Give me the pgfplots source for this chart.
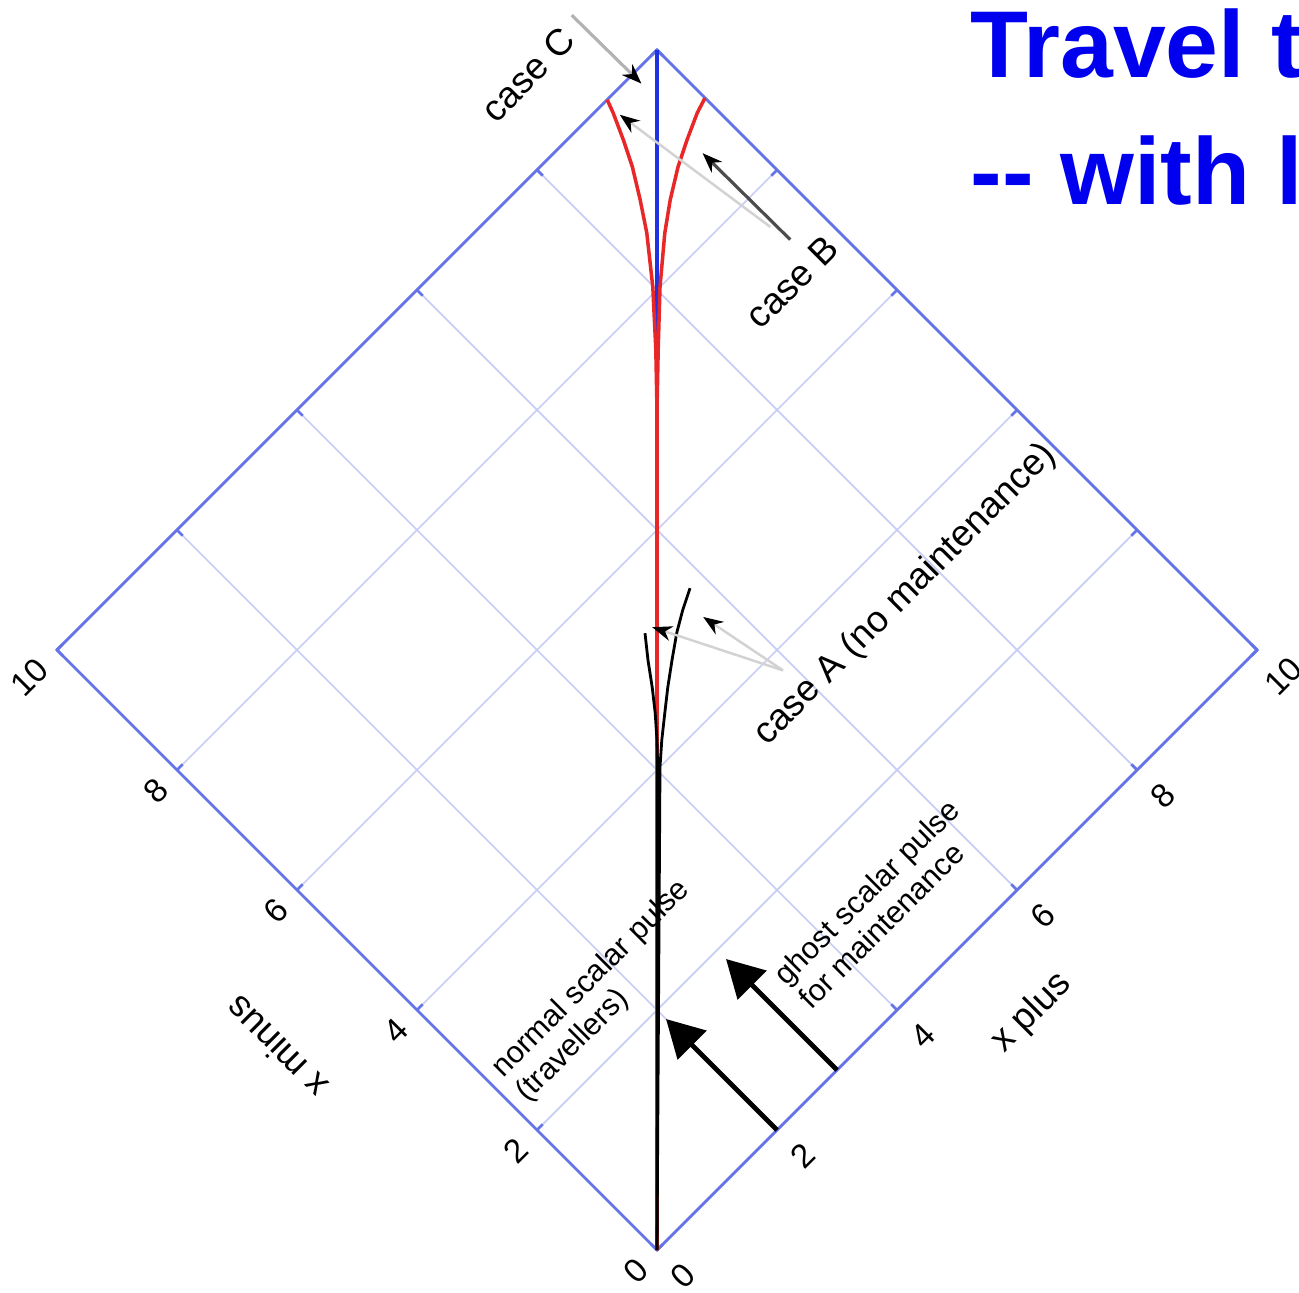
\documentclass[border=0pt]{standalone}
\usepackage{pgfplots}
\pgfplotsset{compat=1.18}
\usepackage{fontspec}
\setmainfont{Liberation Sans}
\usetikzlibrary{arrows.meta}
\definecolor{axblue}{RGB}{100,115,230}
\definecolor{gridblue}{RGB}{200,205,245}
\definecolor{titleblue}{RGB}{0,0,238}
\definecolor{curvered}{RGB}{232,40,40}
\definecolor{curveblue}{RGB}{30,50,225}
\begin{document}
\begin{tikzpicture}
\clip (0,0) rectangle (12.99,12.92);
\begin{axis}[
  x={(0.6cm,0.6cm)}, y={(-0.6cm,0.6cm)},
  at={(6.57cm,0.42cm)}, anchor=origin,
  xmin=0, xmax=10, ymin=0, ymax=10,
  xtick={0,2,4,6,8,10}, ytick={0,2,4,6,8,10},
  grid=major,
  major grid style={gridblue, line width=0.5pt},
  axis line style={axblue, line width=0.8pt},
  tick style={axblue, line width=0.8pt},
  major tick length=0.08cm,
  tick align=inside,
  clip=false,
  /pgf/number format/assume math mode=true,
  tick label style={font=\fontsize{9.5}{10}\selectfont, text=black},
  xticklabel style={rotate=45, anchor=north, inner ysep=7pt},
  yticklabel style={rotate=45, anchor=east, inner xsep=5.5pt},
]
% blue: case C
\addplot[curveblue, line width=1pt] coordinates {(0,0) (10,10)};
% red: case B
\addplot[curvered, line width=1pt] coordinates {(0,0) (7.0,7.0) (7.5,7.52) (7.99,8.06) (8.39,8.56) (8.61,8.89) (8.82,9.23) (8.97,9.53) (9.11,9.84) (9.17,10.0)};
\addplot[curvered, line width=1pt] coordinates {(0,0) (7.0,7.0) (7.52,7.5) (8.05,8.0) (8.54,8.41) (8.86,8.64) (9.20,8.85) (9.5,9.0) (9.81,9.14) (10.0,9.2)};
% black: case A
\addplot[black, line width=0.8pt] coordinates {(0,0) (4.03,4.02) (4.25,4.25) (4.46,4.49) (4.65,4.73) (4.84,4.99) (5.04,5.24)};
\addplot[black, line width=0.8pt] coordinates {(0,0) (4.05,4.0) (4.29,4.21) (4.54,4.41) (4.78,4.60) (5.04,4.79) (5.31,4.98) (5.55,5.12) (5.79,5.24)};
% annotation arrows
\draw[gray!60, line width=0.9pt, -{Stealth[length=0.2cm,width=0.15cm,black]}] (axis cs:9.58,11.0) -- (axis cs:9.59,9.85);
\draw[black!70, line width=0.9pt, -{Stealth[length=0.2cm,width=0.15cm,black]}] (axis cs:9.53,7.31) -- (axis cs:9.52,8.76);
\draw[gray!35, line width=0.7pt, -{Stealth[length=0.2cm,width=0.15cm,black]}] (axis cs:9.47,7.58) -- (axis cs:9.15,9.77);
\draw[gray!35, line width=0.7pt, -{Stealth[length=0.2cm,width=0.15cm,black]}] (axis cs:5.88,3.78) -- (axis cs:5.15,5.23);
\draw[gray!35, line width=0.7pt, -{Stealth[length=0.2cm,width=0.15cm,black]}] (axis cs:5.88,3.78) -- (axis cs:5.66,4.89);
\draw[black, line width=1.4pt, -{Triangle[length=0.37cm,width=0.4cm]}] (axis cs:2,0) -- (axis cs:2,1.85);
\draw[black, line width=1.4pt, -{Triangle[length=0.37cm,width=0.4cm]}] (axis cs:3,0) -- (axis cs:3,1.85);
% axis titles
\node[rotate=45, font=\fontsize{10.5}{12}\selectfont] at (axis cs:5.1,-1.15) {x plus};
\node[rotate=135, font=\fontsize{10.5}{12}\selectfont] at (axis cs:-1.49,4.86) {x minus};
% annotation texts
\node[rotate=45, font=\fontsize{10.5}{12}\selectfont] at (axis cs:8.72,10.87) {case C};
\node[rotate=45, font=\fontsize{10.5}{12}\selectfont] at (axis cs:9.19,6.94) {case B};
\node[rotate=45, font=\fontsize{10.5}{12}\selectfont] at (axis cs:7.53,3.39) {case A (no maintenance)};
\node[rotate=45, anchor=west, align=left, inner sep=0pt, font=\fontsize{8.7}{9.8}\selectfont] at (axis cs:0.14,2.6) {normal scalar pulse\\(travellers)};
\node[rotate=45, anchor=west, align=left, inner sep=0pt, font=\fontsize{8.7}{9.8}\selectfont] at (axis cs:3.27,1.04) {ghost scalar pulse\\for maintenance};
\end{axis}
\node[anchor=base west, inner sep=0pt, font=\fontsize{27}{32}\selectfont\bfseries, text=titleblue] at (9.70,12.14) {Travel t};
\node[anchor=base west, inner sep=0pt, font=\fontsize{27}{32}\selectfont\bfseries, text=titleblue] at (9.70,10.87) {-{}- with l};
\end{tikzpicture}
\end{document}
